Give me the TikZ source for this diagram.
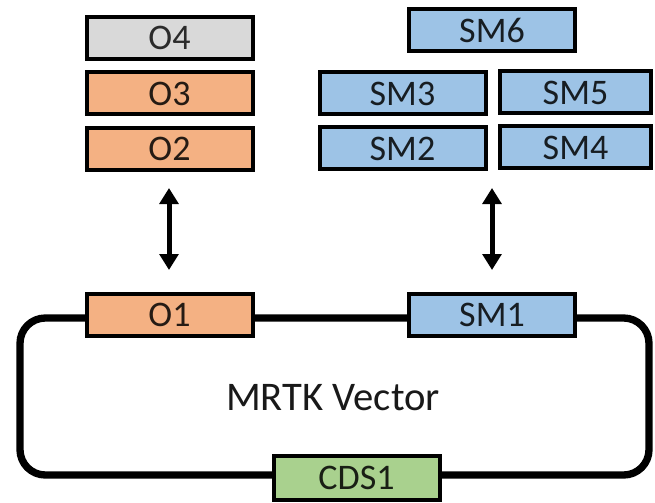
\documentclass[tikz,border=0pt]{standalone}
\usepackage{fontspec}
\setmainfont{Carlito}
\usetikzlibrary{arrows.meta}
\definecolor{partorange}{HTML}{F4B183}
\definecolor{partblue}{HTML}{9DC3E6}
\definecolor{partgrey}{HTML}{D9D9D9}
\definecolor{partgreen}{HTML}{A9D18E}
\tikzset{
  part/.style={draw=black, line width=3pt, minimum width=124.5pt, minimum height=31.5pt,
               inner sep=0pt, font=\fontsize{27}{27}\selectfont},
  orangepart/.style={part, fill=partorange, text=partorange!15!black},
  bluepart/.style={part, fill=partblue, text=partblue!15!black},
  greypart/.style={part, fill=partgrey, text=partgrey!20!black},
  greenpart/.style={part, fill=partgreen, text=partgreen!15!black},
  swap/.style={line width=3.75pt, {Triangle[width=14pt,length=12pt]}-{Triangle[width=14pt,length=12pt]}},
  backbone/.style={line width=5.5pt, rounded corners=19pt}
}
\begin{document}
\begin{tikzpicture}[x=0.75pt, y=-0.75pt]
  \useasboundingbox (0,0) rectangle (655,502);

  % vector backbone
  \draw[backbone] (20,318) rectangle (649,475);
  \node[font=\fontsize{30.5}{30.5}\selectfont, text=black!90] (vec) at (333,398) {MRTK Vector};

  % parts inserted in the vector
  \node[orangepart] (O1) at (169.5,315) {O1};
  \node[bluepart] (SM1) at (492,315) {SM1};
  \node[greenpart, minimum height=33pt] (CDS1) at (356.5,477.5) {CDS1};

  % alternative origin parts
  \node[greypart] (O4) at (169.5,38) {O4};
  \node[orangepart] (O3) at (169.5,93.5) {O3};
  \node[orangepart] (O2) at (169.5,149) {O2};

  % alternative selection marker parts
  \node[bluepart] (SM6) at (492,30) {SM6};
  \node[bluepart] (SM3) at (402.5,93.5) {SM3};
  \node[bluepart, minimum width=113pt] (SM5) at (575.5,92.5) {SM5};
  \node[bluepart] (SM2) at (402.5,148.5) {SM2};
  \node[bluepart, minimum width=113pt] (SM4) at (575.5,147.5) {SM4};

  % exchange arrows
  \coordinate (oTop) at (169,188);
  \coordinate (oBot) at (169,270);
  \coordinate (smTop) at (492,188);
  \coordinate (smBot) at (492,270);
  \draw[swap] (oTop) -- (oBot);
  \draw[swap] (smTop) -- (smBot);
\end{tikzpicture}
\end{document}
